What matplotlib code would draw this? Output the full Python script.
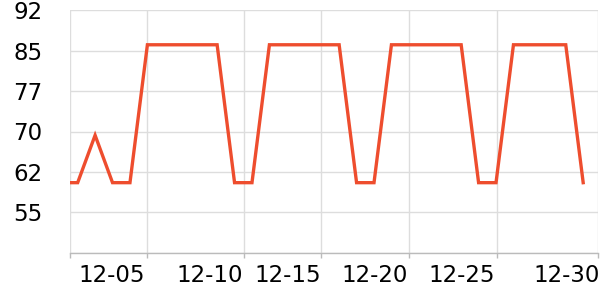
import matplotlib
matplotlib.use("Agg")
import matplotlib.pyplot as plt
import numpy as np

# series values (one per day, first point lies just before the visible range)
values = [60, 60, 68.8, 60, 60, 85.6, 85.6, 85.6, 85.6, 85.6, 60, 60, 85.6, 85.6,
          85.6, 85.6, 85.6, 60, 60, 85.6, 85.6, 85.6, 85.6, 85.6, 60, 60, 85.6,
          85.6, 85.6, 85.6, 60]
day_index = list(range(-1, len(values) - 1))

# x axis
x_range = [-0.44, 29.85]
grid_positions = [-0.44, 4.0, 9.56, 13.98, 19.02, 24.04, 29.85]
label_positions = [1.94, 7.58, 12.04, 17.06, 22.05, 28.05]
tick_labels = ["12-05", "12-10", "12-15", "12-20", "12-25", "12-30"]

# y axis
y_min, y_max, y_step = 47, 92, 7.5

fig = plt.figure(figsize=(6, 3), dpi=100)
ax = fig.add_axes([70 / 600, 47.3 / 300, 528 / 600, (252.7 - 10.3) / 300])

ax.plot(day_index, values, color="#ee4d2e", lw=2.4, solid_joinstyle="miter",
        zorder=3, clip_on=True)

ax.set_xlim(*x_range)
ax.set_ylim(y_min, y_max)

yt = np.arange(y_min, y_max + 0.01, y_step)
ax.set_yticks(yt)
ax.set_yticklabels([""] + [str(int(np.floor(v + 0.5))) for v in yt[1:]])
ax.tick_params(axis="y", length=0, pad=20, labelsize=16.5)

ax.set_xticks(grid_positions)
ax.set_xticklabels([""] * len(grid_positions))
ax.tick_params(axis="x", which="major", length=3.5, color="#bbbbbb", width=1)
ax.set_xticks(label_positions, minor=True)
ax.set_xticklabels(tick_labels, minor=True)
ax.tick_params(axis="x", which="minor", length=0, pad=8, labelsize=16.5)

ax.grid(True, which="major", color="#dddddd", lw=1)
ax.set_axisbelow(True)
for s in ["top", "right", "left"]:
    ax.spines[s].set_visible(False)
ax.spines["bottom"].set_color("#bbbbbb")
ax.spines["bottom"].set_linewidth(1)

fig.savefig("out.png", dpi=100)
